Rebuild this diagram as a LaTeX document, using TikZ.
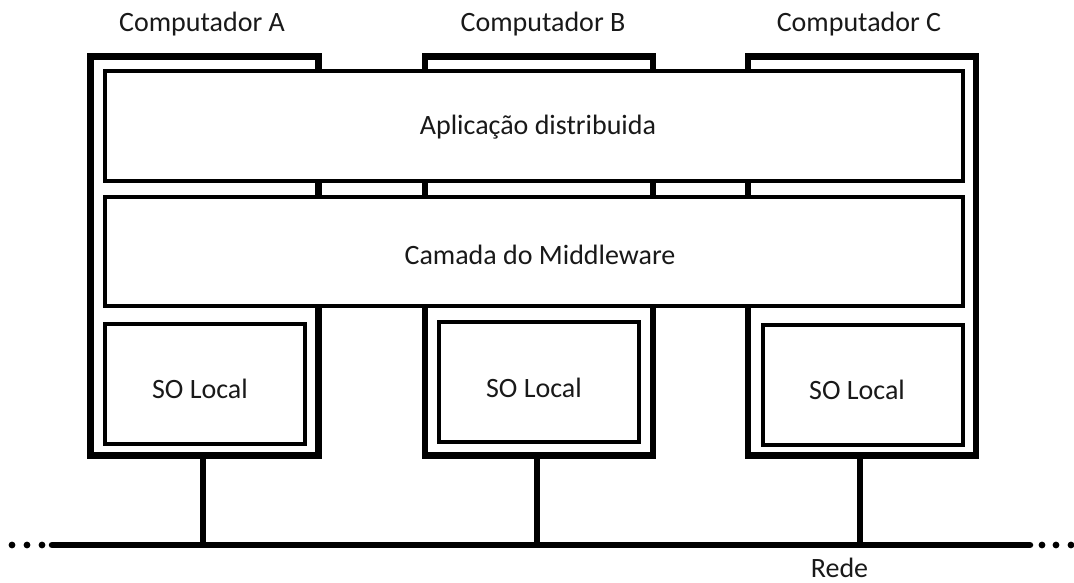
\documentclass[tikz,border=0pt]{standalone}
\usepackage{fontspec}
\setmainfont{Carlito}
\begin{document}
\begin{tikzpicture}[x=1pt,y=-1pt,
  computer/.style={draw, line width=6.5pt, rectangle, inner sep=0pt, outer sep=0pt,
    minimum width=228pt, minimum height=399pt},
  layer/.style={draw, fill=white, line width=4pt, rectangle, inner sep=0pt, outer sep=0pt,
    minimum width=858pt},
  oslayer/.style={draw, fill=white, line width=4pt, rectangle, inner sep=0pt, outer sep=0pt,
    minimum width=200pt, minimum height=120pt},
  label/.style={font=\fontsize{28}{34}\selectfont, text=black!90, anchor=base, inner sep=0pt},
  link/.style={line width=6pt},
  net/.style={line width=6.5pt, line cap=round},
  dot/.style={fill=black}
]
\useasboundingbox (0,0) rectangle (1074,583);

% computer frames
\node[computer] (compA) at (204.5,256) {};
\node[computer] (compB) at (539,256) {};
\node[computer] (compC) at (862,256) {};

% shared layers spanning all computers
\node[layer, minimum height=110pt] (app) at (534,126) {};
\node[layer, minimum height=109pt] (mid) at (534,251.5) {};

% local operating systems
\node[oslayer] (osA) at (205.25,383.5) {};
\node[oslayer] (osB) at (539,382) {};
\node[oslayer] (osC) at (862.5,385) {};

% texts
\node[label] (tA) at (202,32) {Computador A};
\node[label] (tB) at (543,32) {Computador B};
\node[label] (tC) at (859,32) {Computador C};
\node[label] (tApp) at (538,135) {Aplicação distribuida};
\node[label] (tMid) at (540,264) {Camada do Middleware};
\node[label] (tOsA) at (200,398) {SO Local};
\node[label] (tOsB) at (534,397) {SO Local};
\node[label] (tOsC) at (857,399) {SO Local};
\node[label] (tNet) at (839.5,577.5) {Rede};

% network bus
\coordinate (netL) at (52,545);
\coordinate (netR) at (1030,545);
\coordinate (tapA) at (203,545);
\coordinate (tapB) at (537,545);
\coordinate (tapC) at (860,545);
\draw[net] (netL) -- (netR);
\draw[link] (compA.south -| tapA) -- (tapA);
\draw[link] (compB.south -| tapB) -- (tapB);
\draw[link] (compC.south -| tapC) -- (tapC);

% continuation dots
\foreach \x in {12,27,42,1042,1056,1071}
  \fill[dot] (\x,545) circle (3.4pt);
\end{tikzpicture}
\end{document}
